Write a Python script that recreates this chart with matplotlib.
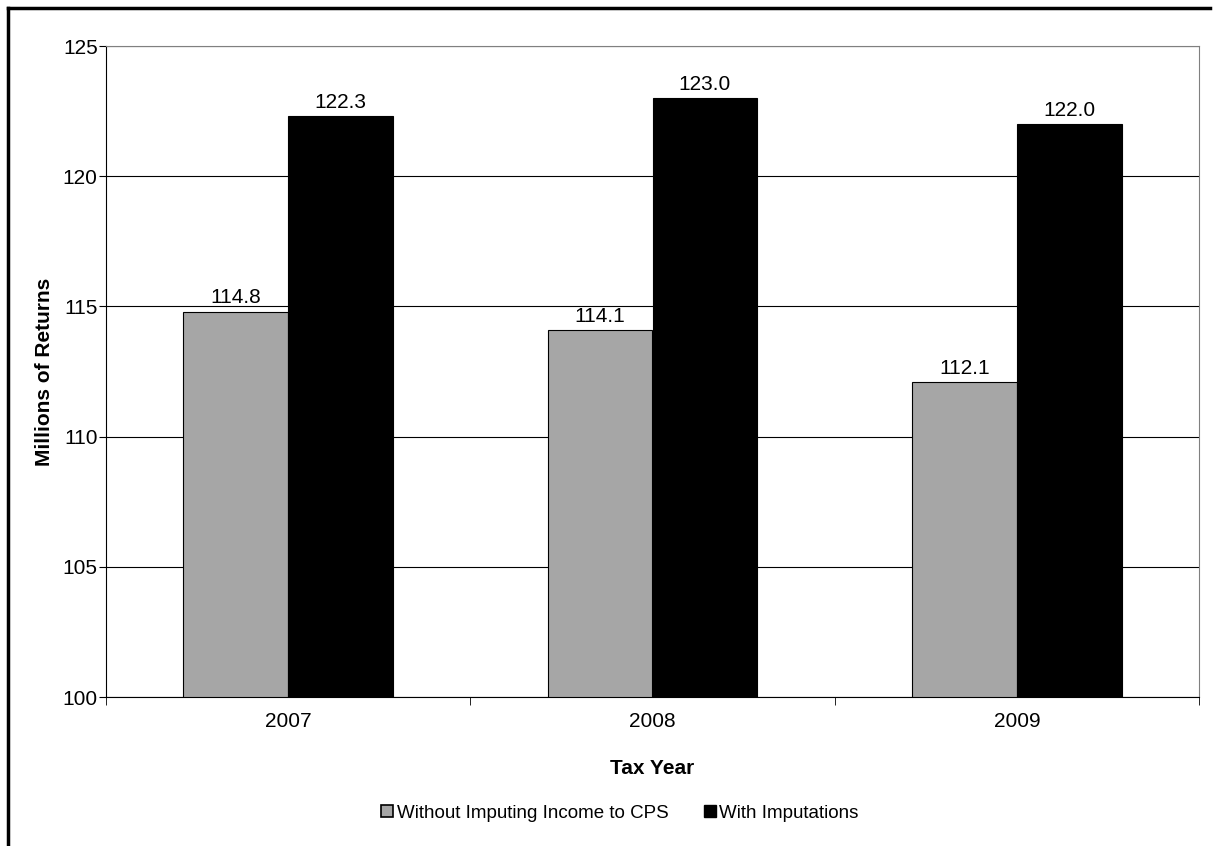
import matplotlib.pyplot as plt
import matplotlib.lines as mlines
import numpy as np

plt.rcParams['font.family'] = ['Liberation Sans', 'DejaVu Sans']

# Data
years = ['2007', '2008', '2009']
without_imputing = [114.8, 114.1, 112.1]
with_imputations = [122.3, 123.0, 122.0]
series_names = ['Without Imputing Income to CPS', 'With Imputations']

fig = plt.figure(figsize=(12.19, 8.46), dpi=100)
ax = fig.add_axes([106 / 1219, 1 - 697 / 846, (1199 - 106) / 1219, (697 - 46) / 846])

x = np.arange(len(years))
w = 0.288
b1 = ax.bar(x - w / 2, np.array(without_imputing) - 100, w, bottom=100,
            color='#a6a6a6', edgecolor='black', linewidth=0.8, zorder=3)
b2 = ax.bar(x + w / 2, np.array(with_imputations) - 100, w, bottom=100,
            color='black', edgecolor='black', linewidth=0.8, zorder=3)

for bars, vals in [(b1, without_imputing), (b2, with_imputations)]:
    for rect, v in zip(bars, vals):
        ax.annotate(f'{v:.1f}', (rect.get_x() + rect.get_width() / 2, v),
                    xytext=(0, 6), textcoords='offset points',
                    ha='center', va='baseline', fontsize=15)

ax.set_ylim(100, 125)
ax.set_xlim(-0.5, len(years) - 0.5)
ax.set_yticks(np.arange(100, 126, 5))
ax.tick_params(axis='y', labelsize=15, length=5, direction='out', pad=1)

# category labels centered, tick marks at boundaries
ax.set_xticks(x)
ax.set_xticklabels(years, fontsize=15)
ax.tick_params(axis='x', which='major', length=0, pad=11)
ax.set_xticks(np.arange(-0.5, len(years), 1), minor=True)
ax.tick_params(axis='x', which='minor', length=6, direction='out')

ax.grid(axis='y', color='black', linewidth=0.8, zorder=0)
ax.set_axisbelow(True)
for s in ['top', 'right']:
    ax.spines[s].set_color('#808080')
for s in ['left', 'bottom']:
    ax.spines[s].set_color('black')

ax.set_ylabel('Millions of Returns', fontsize=15, fontweight='bold', labelpad=6)
ax.set_xlabel('Tax Year', fontsize=15, fontweight='bold', labelpad=20)

handles = [
    mlines.Line2D([], [], marker='s', linestyle='none', markersize=8,
                  markerfacecolor='#a6a6a6', markeredgecolor='black', markeredgewidth=1.2),
    mlines.Line2D([], [], marker='s', linestyle='none', markersize=8,
                  markerfacecolor='black', markeredgecolor='black'),
]
fig.legend(handles, series_names, loc='center', bbox_to_anchor=(619 / 1219, 1 - 813 / 846),
           ncol=2, frameon=False, fontsize=13.5, handletextpad=0.1, columnspacing=1.8,
           handlelength=0.8)

# outer border (top and left visible)
fig.add_artist(mlines.Line2D([8 / 1219, 1210 / 1219], [1 - 8 / 846, 1 - 8 / 846],
                             color='black', linewidth=2.5, transform=fig.transFigure))
fig.add_artist(mlines.Line2D([8 / 1219, 8 / 1219], [0, 1 - 8 / 846],
                             color='black', linewidth=2.5, transform=fig.transFigure))

fig.savefig('out.png', dpi=100)
